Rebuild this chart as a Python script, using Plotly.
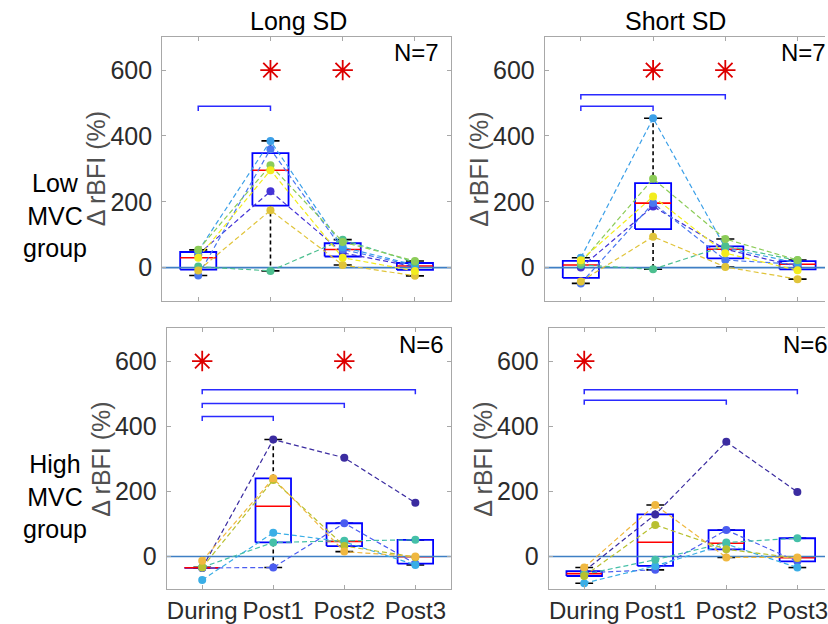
import numpy as np
import plotly.graph_objects as go

W, H = 828, 624

timepoints = ["During", "Post1", "Post2", "Post3"]
col_titles = ["Long SD", "Short SD"]
row_titles = ["Low<br>MVC<br>group", "High<br>MVC<br>group"]
n_labels = ["N=7", "N=7", "N=6", "N=6"]
ytick_vals = [0, 200, 400, 600]

colors_low = ["#4433d6", "#4a78f0", "#3ca0e8", "#4cbf8f", "#8ccc58", "#e0c43a", "#f2ec1e"]
colors_high = ["#3b2ca0", "#4a5cf0", "#3aaee6", "#45c0a8", "#b8c030", "#f0b840"]

# subjects x [During, Post1, Post2, Post3]  (Δ rBFI %)
long_low = [
    [40, 232, 45, 2],
    [-24, 360, 55, 5],
    [50, 385, 62, 8],
    [3, -10, 85, 16],
    [54, 311, 78, 20],
    [-9, 174, 8, -25],
    [30, 296, 30, -10],
]
short_low = [
    [0, 186, 56, 3],
    [-48, 196, 23, 10],
    [30, 454, 60, 14],
    [8, -5, 66, 22],
    [15, 270, 87, 23],
    [-42, 94, 2, -35],
    [22, 216, 44, -8],
]
long_high = [
    [-35, 359, 303, 165],
    [-35, -34, 102, -22],
    [-72, 73, 45, -26],
    [-33, 43, 48, 51],
    [-34, 235, 32, -2],
    [-13, 240, 15, 0],
]
short_high = [
    [-45, 129, 352, 198],
    [-50, -41, 81, -15],
    [-82, -29, 38, -34],
    [-55, -10, 43, 56],
    [-60, 97, 22, -5],
    [-34, 158, -3, -3],
]

# significance: asterisk positions and brackets (from, to, level)
stars = [[2, 3], [2, 3], [1, 3], [1]]
brackets = [
    [(1, 2, 490)],
    [(1, 2, 490), (1, 3, 525)],
    [(1, 2, 430), (1, 3, 470), (1, 4, 512)],
    [(1, 3, 480), (1, 4, 512)],
]
star_level = 600

panels = [long_low, short_low, long_high, short_high]
panel_colors = [colors_low, colors_low, colors_high, colors_high]


def px(x):
    return x / W


def py(y):
    return 1 - y / H


# axis geometry (pixels)
geo = [
    dict(x0=162.7, x1=452.7, y0=37.3, y1=301.0, xr=[0.5, 4.5]),
    dict(x0=546.7, x1=828.0, y0=37.3, y1=301.0, xr=[0.5, 0.5 + 281.3 / 72.5]),
    dict(x0=167.3, x1=452.5, y0=329.0, y1=590.0, xr=[0.5, 4.5]),
    dict(x0=550.7, x1=828.0, y0=329.0, y1=590.0, xr=[0.5, 0.5 + 277.3 / 71.3]),
]

FONT = "Liberation Sans, Arial, Helvetica, sans-serif"
AX_COL = "#a8a8a8"
TXT_COL = "#2b2b2b"
FS = 25

fig = go.Figure()

for k in range(4):
    xa = "x" if k == 0 else f"x{k+1}"
    ya = "y" if k == 0 else f"y{k+1}"
    data = np.array(panels[k], dtype=float)
    cols = panel_colors[k]

    # --- boxplots (MATLAB style) ---
    for j in range(4):
        v = data[:, j]
        q1, med, q3 = np.percentile(v, [25, 50, 75], method="hazen")
        iqr = q3 - q1
        up = v[v <= q3 + 1.5 * iqr].max()
        lo = v[v >= q1 - 1.5 * iqr].min()
        xc = j + 1
        fig.add_trace(go.Scatter(x=[xc, xc, None, xc, xc], y=[q3, up, None, q1, lo],
                                 mode="lines", xaxis=xa, yaxis=ya, showlegend=False,
                                 line=dict(color="black", width=1.6, dash="4px,3px"),
                                 hoverinfo="skip"))
        fig.add_trace(go.Scatter(x=[xc - 0.125, xc + 0.125, None, xc - 0.125, xc + 0.125],
                                 y=[up, up, None, lo, lo],
                                 mode="lines", xaxis=xa, yaxis=ya, showlegend=False,
                                 line=dict(color="black", width=1.6), hoverinfo="skip"))
        fig.add_trace(go.Scatter(x=[xc - 0.25, xc + 0.25, xc + 0.25, xc - 0.25, xc - 0.25],
                                 y=[q1, q1, q3, q3, q1],
                                 mode="lines", xaxis=xa, yaxis=ya, showlegend=False,
                                 line=dict(color="#0000ff", width=1.8), hoverinfo="skip"))
        fig.add_trace(go.Scatter(x=[xc - 0.25, xc + 0.25], y=[med, med],
                                 mode="lines", xaxis=xa, yaxis=ya, showlegend=False,
                                 line=dict(color="#ff0000", width=1.6), hoverinfo="skip"))

    # zero line
    fig.add_trace(go.Scatter(x=[0.5, 4.5], y=[0, 0], mode="lines", xaxis=xa, yaxis=ya,
                             showlegend=False, line=dict(color="#3f7fc4", width=1.6),
                             hoverinfo="skip"))

    # subjects
    for s in range(data.shape[0]):
        fig.add_trace(go.Scatter(x=[1, 2, 3, 4], y=data[s], mode="lines+markers",
                                 xaxis=xa, yaxis=ya, showlegend=False,
                                 line=dict(color=cols[s], width=1.2, dash="5px,3px"),
                                 marker=dict(color=cols[s], size=8, line=dict(width=0)),
                                 hoverinfo="skip", cliponaxis=False))

    # brackets
    for (a, b, lev) in brackets[k]:
        fig.add_trace(go.Scatter(x=[a, a, b, b], y=[lev - 14, lev, lev, lev - 14],
                                 mode="lines", xaxis=xa, yaxis=ya, showlegend=False,
                                 line=dict(color="#2a2aff", width=1.5), hoverinfo="skip"))
    # asterisks
    fig.add_trace(go.Scatter(x=stars[k], y=[star_level] * len(stars[k]), mode="markers",
                             xaxis=xa, yaxis=ya, showlegend=False,
                             marker=dict(symbol="asterisk-open", size=17, color="#dd0000",
                                         line=dict(color="#dd0000", width=1.8)),
                             hoverinfo="skip"))

layout = dict(width=W, height=H, margin=dict(l=0, r=0, t=0, b=0),
              paper_bgcolor="white", plot_bgcolor="white",
              font=dict(family=FONT, size=FS, color=TXT_COL))

for k in range(4):
    g = geo[k]
    xname = "xaxis" if k == 0 else f"xaxis{k+1}"
    yname = "yaxis" if k == 0 else f"yaxis{k+1}"
    right_panel = k in (1, 3)
    bottom_row = k >= 2
    layout[xname] = dict(domain=[px(g["x0"]), px(g["x1"])], range=g["xr"],
                         anchor="y" if k == 0 else f"y{k+1}",
                         tickvals=[1, 2, 3, 4], ticktext=timepoints,
                         showticklabels=bottom_row, ticks="inside", ticklen=4,
                         tickcolor=AX_COL, showline=True, linecolor=AX_COL, linewidth=1,
                         mirror="ticks", showgrid=False, zeroline=False,
                         ticklabeloverflow="allow",
                         tickfont=dict(size=FS - 1, color=TXT_COL), fixedrange=True)
    layout[yname] = dict(domain=[py(g["y1"]), py(g["y0"])], range=[-100, 700],
                         anchor="x" if k == 0 else f"x{k+1}",
                         tickvals=ytick_vals, ticks="inside", ticklen=4,
                         tickcolor=AX_COL, showline=True, linecolor=AX_COL, linewidth=1,
                         mirror=False if right_panel else "ticks",
                         showgrid=False, zeroline=False, ticklabelstandoff=4,
                         tickfont=dict(size=FS, color=TXT_COL), fixedrange=True)

fig.update_layout(**layout)

ann = []
common = dict(xref="paper", yref="paper", showarrow=False, xanchor="center", yanchor="middle")
# column titles
ann.append(dict(text=col_titles[0], x=px(300), y=py(21), font=dict(size=FS, color="black"), **common))
ann.append(dict(text=col_titles[1], x=px(678), y=py(21), font=dict(size=FS, color="black"), **common))
# row labels
ann.append(dict(text=row_titles[0], x=px(55), y=py(216), align="center",
                font=dict(size=FS, color="black"), **common))
ann.append(dict(text=row_titles[1], x=px(55), y=py(497), align="center",
                font=dict(size=FS, color="black"), **common))
# y labels
for k in range(4):
    g = geo[k]
    ann.append(dict(text="Δ rBFI (%)", x=px(g["x0"] - 66), y=py((g["y0"] + g["y1"]) / 2),
                    textangle=-90, font=dict(size=FS, color="#505050"), **common))
# N labels
n_pos = [(443, 53, "right"), (782, 53, "left"), (448, 345, "right"), (784, 345, "left")]
for k in range(4):
    x, y, anc = n_pos[k]
    ann.append(dict(text=n_labels[k], x=px(x), y=py(y), xref="paper", yref="paper",
                    showarrow=False, xanchor=anc, yanchor="middle",
                    font=dict(size=FS - 1, color="black")))

fig.update_layout(annotations=ann)
fig.write_html("out.html")
